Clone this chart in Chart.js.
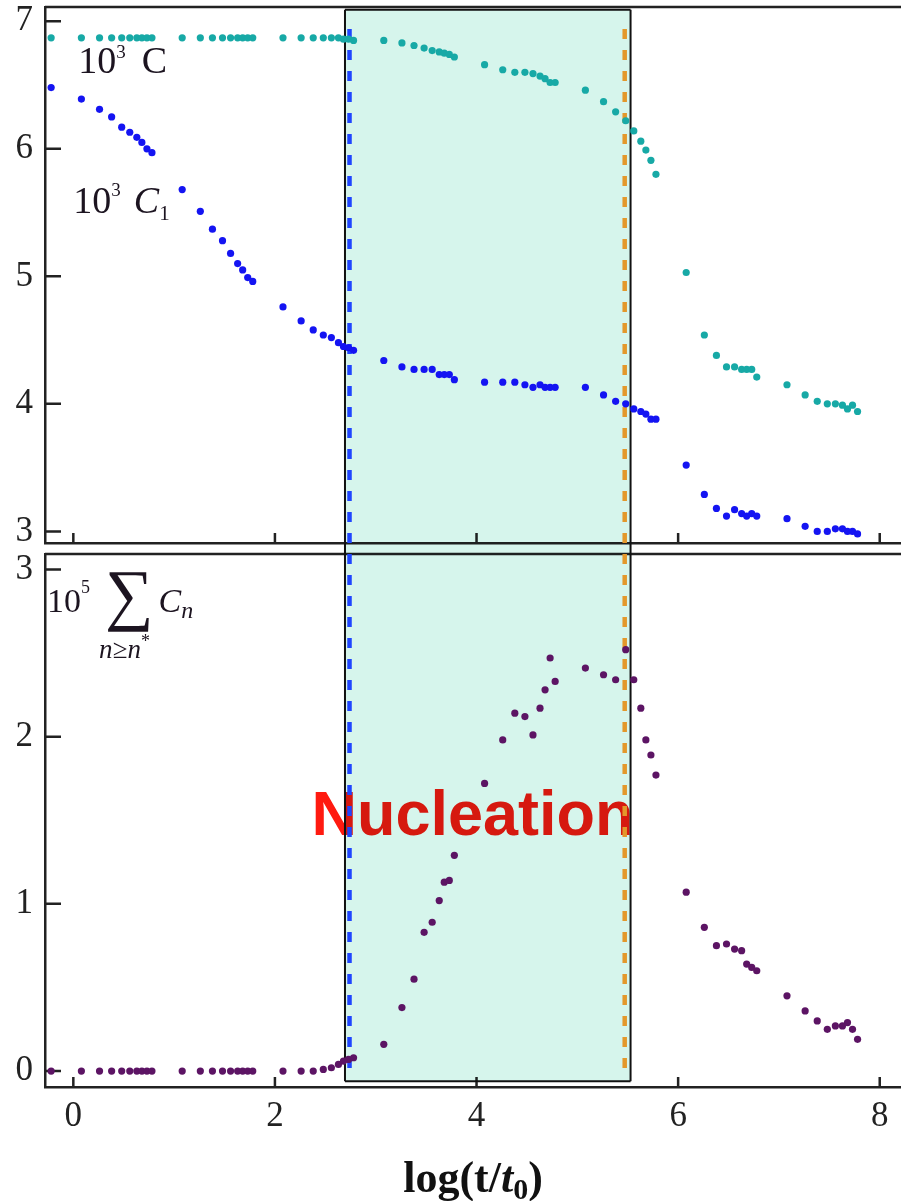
<!DOCTYPE html>
<html>
<head>
<meta charset="utf-8">
<title>Nucleation window</title>
<script src="https://cdn.jsdelivr.net/npm/chart.js@4.4.0/dist/chart.umd.min.js"></script>
<style>
  body { margin: 0; background: #fff; }
  #wrap { position: relative; width: 901px; height: 1201px; }
  canvas { position: absolute; left: 0; }
  #top { top: 0; }
  #bottom { top: 548px; }
</style>
</head>
<body>
<div id="wrap">
  <canvas id="top" width="901" height="548"></canvas>
  <canvas id="bottom" width="901" height="653"></canvas>
</div>
<script>
// sampling times, log(t/t0)
var logTime = [
  -0.22, 0.08, 0.26, 0.38, 0.48, 0.56, 0.63, 0.68, 0.73,
  0.78, 1.08, 1.26, 1.38, 1.48, 1.56, 1.63, 1.68, 1.73,
  1.78, 2.08, 2.26, 2.38, 2.48, 2.56, 2.63, 2.68, 2.73,
  2.78, 3.08, 3.26, 3.38, 3.48, 3.56, 3.63, 3.68, 3.73,
  3.78, 4.08, 4.26, 4.38, 4.48, 4.56, 4.63, 4.68, 4.73,
  4.78, 5.08, 5.26, 5.38, 5.48, 5.56, 5.63, 5.68, 5.73,
  5.78, 6.08, 6.26, 6.38, 6.48, 6.56, 6.63, 6.68, 6.73,
  6.78, 7.08, 7.26, 7.38, 7.48, 7.56, 7.63, 7.68, 7.73,
  7.78
];
// 10^3 C
var totalConc = [
  6.87, 6.87, 6.87, 6.87, 6.87, 6.87, 6.87, 6.87, 6.87,
  6.87, 6.87, 6.87, 6.87, 6.87, 6.87, 6.87, 6.87, 6.87,
  6.87, 6.87, 6.87, 6.87, 6.87, 6.87, 6.87, 6.86, 6.86,
  6.85, 6.85, 6.83, 6.81, 6.79, 6.77, 6.76, 6.75, 6.74,
  6.72, 6.66, 6.62, 6.60, 6.60, 6.59, 6.57, 6.55, 6.52,
  6.52, 6.46, 6.37, 6.29, 6.22, 6.14, 6.06, 5.99, 5.91,
  5.80, 5.03, 4.54, 4.38, 4.29, 4.29, 4.27, 4.27, 4.27,
  4.21, 4.15, 4.07, 4.02, 4.00, 4.00, 3.99, 3.96, 3.99,
  3.94
];
// 10^3 C1
var monomerConc = [
  6.48, 6.39, 6.31, 6.25, 6.17, 6.13, 6.09, 6.05, 6.00,
  5.97, 5.68, 5.51, 5.37, 5.28, 5.18, 5.10, 5.05, 4.99,
  4.96, 4.76, 4.65, 4.58, 4.54, 4.52, 4.48, 4.45, 4.44,
  4.42, 4.34, 4.29, 4.27, 4.27, 4.27, 4.23, 4.23, 4.23,
  4.19, 4.17, 4.17, 4.17, 4.15, 4.13, 4.15, 4.13, 4.13,
  4.13, 4.13, 4.07, 4.02, 4.00, 3.96, 3.94, 3.92, 3.88,
  3.88, 3.52, 3.29, 3.18, 3.12, 3.17, 3.14, 3.12, 3.14,
  3.12, 3.10, 3.04, 3.00, 3.00, 3.02, 3.02, 3.00, 3.00,
  2.98
];
// 10^5 sum of C_n over n >= n*
var nucleiConc = [
  0, 0, 0, 0, 0, 0, 0, 0, 0,
  0, 0, 0, 0, 0, 0, 0, 0, 0,
  0, 0, 0, 0, 0.01, 0.02, 0.04, 0.06, 0.07,
  0.08, 0.16, 0.38, 0.55, 0.83, 0.89, 1.02, 1.13, 1.14,
  1.29, 1.72, 1.98, 2.14, 2.12, 2.01, 2.17, 2.28, 2.47,
  2.33, 2.41, 2.37, 2.34, 2.52, 2.34, 2.17, 1.98, 1.89,
  1.77, 1.07, 0.86, 0.75, 0.76, 0.73, 0.72, 0.64, 0.62,
  0.60, 0.45, 0.36, 0.30, 0.25, 0.27, 0.27, 0.29, 0.25,
  0.19
];
var xTicks = [0, 2, 4, 6, 8];
var topTicks = [3, 4, 5, 6, 7];
var bottomTicks = [0, 1, 2, 3];
var nucleationWindow = [2.695, 5.528];
var onsetLine = 2.74;
var endLine = 5.47;

var SERIF = '"Liberation Serif", "Times New Roman", serif';
var INK = '#222';
var DASH = [10, 11];
var charts = {};

function fixTicks(values) {
  return function (scale) {
    scale.ticks = values.map(function (v) { return { value: v }; });
  };
}
function fixSize(dim, size) {
  return function (scale) {
    scale[dim] = size;
    scale.paddingLeft = scale.paddingRight = scale.paddingTop = scale.paddingBottom = 0;
  };
}

function points(ys) {
  return logTime.map(function (x, i) { return { x: x, y: ys[i] }; });
}
function dots(label, ys, color) {
  return {
    label: label,
    data: points(ys),
    pointRadius: 3.6,
    pointBorderWidth: 0,
    pointBackgroundColor: color,
    borderColor: color
  };
}

// draws a run of text pieces left to right, each with its own font and offset
function drawRuns(ctx, x, y, runs) {
  runs.forEach(function (r) {
    ctx.font = r.font;
    x += r.gap || 0;
    ctx.fillText(r.text, x, y + (r.shift || 0));
    x += ctx.measureText(r.text).width;
  });
  return x;
}
function runsWidth(ctx, runs) {
  var w = 0;
  runs.forEach(function (r) { ctx.font = r.font; w += (r.gap || 0) + ctx.measureText(r.text).width; });
  return w;
}

// frame top edge and inward tick marks
function drawFrame(chart) {
  var ctx = chart.ctx, a = chart.chartArea;
  var xs = chart.scales.x, ys = chart.scales.y;
  ctx.save();
  ctx.strokeStyle = INK;
  ctx.lineWidth = 2.5;
  ctx.beginPath();
  ctx.moveTo(a.left, a.top);
  ctx.lineTo(a.right, a.top);
  ys.ticks.forEach(function (t) {
    var py = ys.getPixelForValue(t.value);
    ctx.moveTo(a.left, py);
    ctx.lineTo(a.left + 16, py);
  });
  xs.ticks.forEach(function (t) {
    var px = xs.getPixelForValue(t.value);
    ctx.moveTo(px, a.bottom);
    ctx.lineTo(px, a.bottom - 10);
  });
  ctx.stroke();
  ctx.restore();
}

// shaded nucleation window, spanning both panels
function drawWindow(chart, top, bottom, closeTop, closeBottom) {
  var ctx = chart.ctx, xs = chart.scales.x;
  var x0 = xs.getPixelForValue(nucleationWindow[0]);
  var x1 = xs.getPixelForValue(nucleationWindow[1]);
  ctx.save();
  ctx.globalCompositeOperation = 'multiply';
  ctx.fillStyle = 'rgb(214, 245, 236)';
  ctx.fillRect(x0, top, x1 - x0, bottom - top);
  ctx.globalCompositeOperation = 'source-over';
  ctx.strokeStyle = '#111';
  ctx.lineWidth = 2;
  ctx.beginPath();
  ctx.moveTo(x0, top); ctx.lineTo(x0, bottom);
  ctx.moveTo(x1, top); ctx.lineTo(x1, bottom);
  if (closeTop) { ctx.moveTo(x0, top); ctx.lineTo(x1, top); }
  if (closeBottom) { ctx.moveTo(x0, bottom); ctx.lineTo(x1, bottom); }
  ctx.stroke();
  ctx.restore();
}

function drawMarker(chart, value, color, from, to) {
  var ctx = chart.ctx, px = chart.scales.x.getPixelForValue(value);
  ctx.save();
  ctx.strokeStyle = color;
  ctx.lineWidth = 4.5;
  ctx.setLineDash(DASH);
  ctx.beginPath();
  ctx.moveTo(px, from);
  ctx.lineTo(px, to);
  ctx.stroke();
  ctx.restore();
}

var topDecor = {
  id: 'topDecor',
  beforeDatasetsDraw: function (chart) {
    var ys = chart.scales.y;
    drawFrame(chart);
    drawWindow(chart, ys.getPixelForValue(7.09), chart.height, true, false);
    var start = ys.getPixelForValue(6.94);
    drawMarker(chart, onsetLine, '#1f45ff', start, chart.height);
    drawMarker(chart, endLine, '#e3982b', start, chart.height);
  },
  afterDatasetsDraw: function (chart) {
    var ctx = chart.ctx, xs = chart.scales.x, ys = chart.scales.y;
    var big = '38px ' + SERIF, sup = '19px ' + SERIF;
    ctx.save();
    ctx.fillStyle = '#1c1420';
    ctx.textBaseline = 'alphabetic';
    drawRuns(ctx, xs.getPixelForValue(0.05), ys.getPixelForValue(6.595), [
      { text: '10', font: big },
      { text: '3', font: sup, shift: -15 },
      { text: 'C', font: big, gap: 16 }
    ]);
    drawRuns(ctx, xs.getPixelForValue(0.0), ys.getPixelForValue(5.497), [
      { text: '10', font: big },
      { text: '3', font: sup, shift: -17 },
      { text: 'C', font: 'italic ' + big, gap: 13 },
      { text: '1', font: '21px ' + SERIF, shift: 7 }
    ]);
    ctx.restore();
  }
};

var bottomDecor = {
  id: 'bottomDecor',
  beforeDatasetsDraw: function (chart) {
    var ctx = chart.ctx, xs = chart.scales.x, ys = chart.scales.y;
    drawFrame(chart);
    // label of the window, sitting under the shading
    ctx.save();
    ctx.fillStyle = '#ff1a10';
    ctx.font = 'bold 63px "Liberation Sans", Arial, sans-serif';
    ctx.textAlign = 'center';
    ctx.textBaseline = 'alphabetic';
    ctx.fillText('Nucleation', xs.getPixelForValue(3.96), ys.getPixelForValue(1.413));
    ctx.restore();
    drawWindow(chart, 0, ys.getPixelForValue(-0.06), false, true);
    // dashes continue from the upper panel
    var canvasTop = chart.canvas.offsetTop;
    var start = charts.top.scales.y.getPixelForValue(6.94) - canvasTop;
    var end = ys.getPixelForValue(-0.01);
    drawMarker(chart, onsetLine, '#1f45ff', start, end);
    drawMarker(chart, endLine, '#e3982b', start, end);
  },
  afterDatasetsDraw: function (chart) {
    var ctx = chart.ctx, xs = chart.scales.x, ys = chart.scales.y, a = chart.chartArea;
    ctx.save();
    ctx.fillStyle = '#1c1420';
    ctx.textBaseline = 'alphabetic';
    var x0 = xs.getPixelForValue(-0.26), y0 = ys.getPixelForValue(2.747);
    var big = '34px ' + SERIF;
    var after10 = drawRuns(ctx, x0, y0, [
      { text: '10', font: big },
      { text: '5', font: '18px ' + SERIF, shift: -19 }
    ]);
    ctx.font = '68px ' + SERIF;
    ctx.fillText('\u2211', after10 + 15, y0 + 5);
    var sigW = ctx.measureText('\u2211').width;
    drawRuns(ctx, after10 + 15 + sigW + 5, y0, [
      { text: 'C', font: 'italic ' + big },
      { text: 'n', font: 'italic 24px ' + SERIF, shift: 6 }
    ]);
    drawRuns(ctx, after10 + 9, y0 + 46, [
      { text: 'n\u2265n', font: 'italic 27px ' + SERIF },
      { text: '*', font: '18px ' + SERIF, shift: -11 }
    ]);

    // axis title log(t/t0)
    var bold = 'bold 44px ' + SERIF;
    var title = [
      { text: 'log(t/', font: bold },
      { text: 't', font: 'italic ' + bold },
      { text: '0', font: 'bold 30px ' + SERIF, shift: 7 },
      { text: ')', font: bold }
    ];
    ctx.fillStyle = '#111';
    var cx = (a.left + a.right) / 2;
    drawRuns(ctx, cx - runsWidth(ctx, title) / 2, chart.height - 9, title);
    ctx.restore();
  }
};

function baseOptions(yMin, yMax, yTicks, topPad, xHeight, showX) {
  return {
    animation: false,
    responsive: false,
    events: [],
    layout: { padding: { top: topPad, left: 0, right: 0, bottom: 0 }, autoPadding: false },
    plugins: { legend: { display: false }, tooltip: { enabled: false } },
    scales: {
      x: {
        type: 'linear',
        min: -0.281,
        max: 8.211,
        afterBuildTicks: fixTicks(xTicks),
        afterFit: fixSize('height', xHeight),
        grid: { display: false, drawTicks: false },
        border: { color: INK, width: 2.5 },
        ticks: {
          display: showX,
          padding: 9,
          maxRotation: 0,
          color: INK,
          font: { family: SERIF, size: 35 },
          callback: function (v) { return String(v); }
        }
      },
      y: {
        type: 'linear',
        min: yMin,
        max: yMax,
        afterBuildTicks: fixTicks(yTicks),
        afterFit: fixSize('width', 45),
        grid: { display: false, drawTicks: false },
        border: { color: INK, width: 2.5 },
        ticks: {
          padding: 12,
          color: INK,
          font: { family: SERIF, size: 35 },
          callback: function (v) { return String(v); }
        }
      }
    }
  };
}

charts.top = new Chart(document.getElementById('top'), {
  type: 'scatter',
  data: {
    datasets: [
      dots('10^3 C', totalConc, '#17a9a6'),
      dots('10^3 C1', monomerConc, '#1414f2')
    ]
  },
  options: baseOptions(2.909, 7.112, topTicks, 7, 5, false),
  plugins: [topDecor]
});

charts.bottom = new Chart(document.getElementById('bottom'), {
  type: 'scatter',
  data: {
    datasets: [
      dots('10^5 sum C_n', nucleiConc, '#5c1464')
    ]
  },
  options: baseOptions(-0.095, 3.092, bottomTicks, 6, 114, true),
  plugins: [bottomDecor]
});
</script>
</body>
</html>
